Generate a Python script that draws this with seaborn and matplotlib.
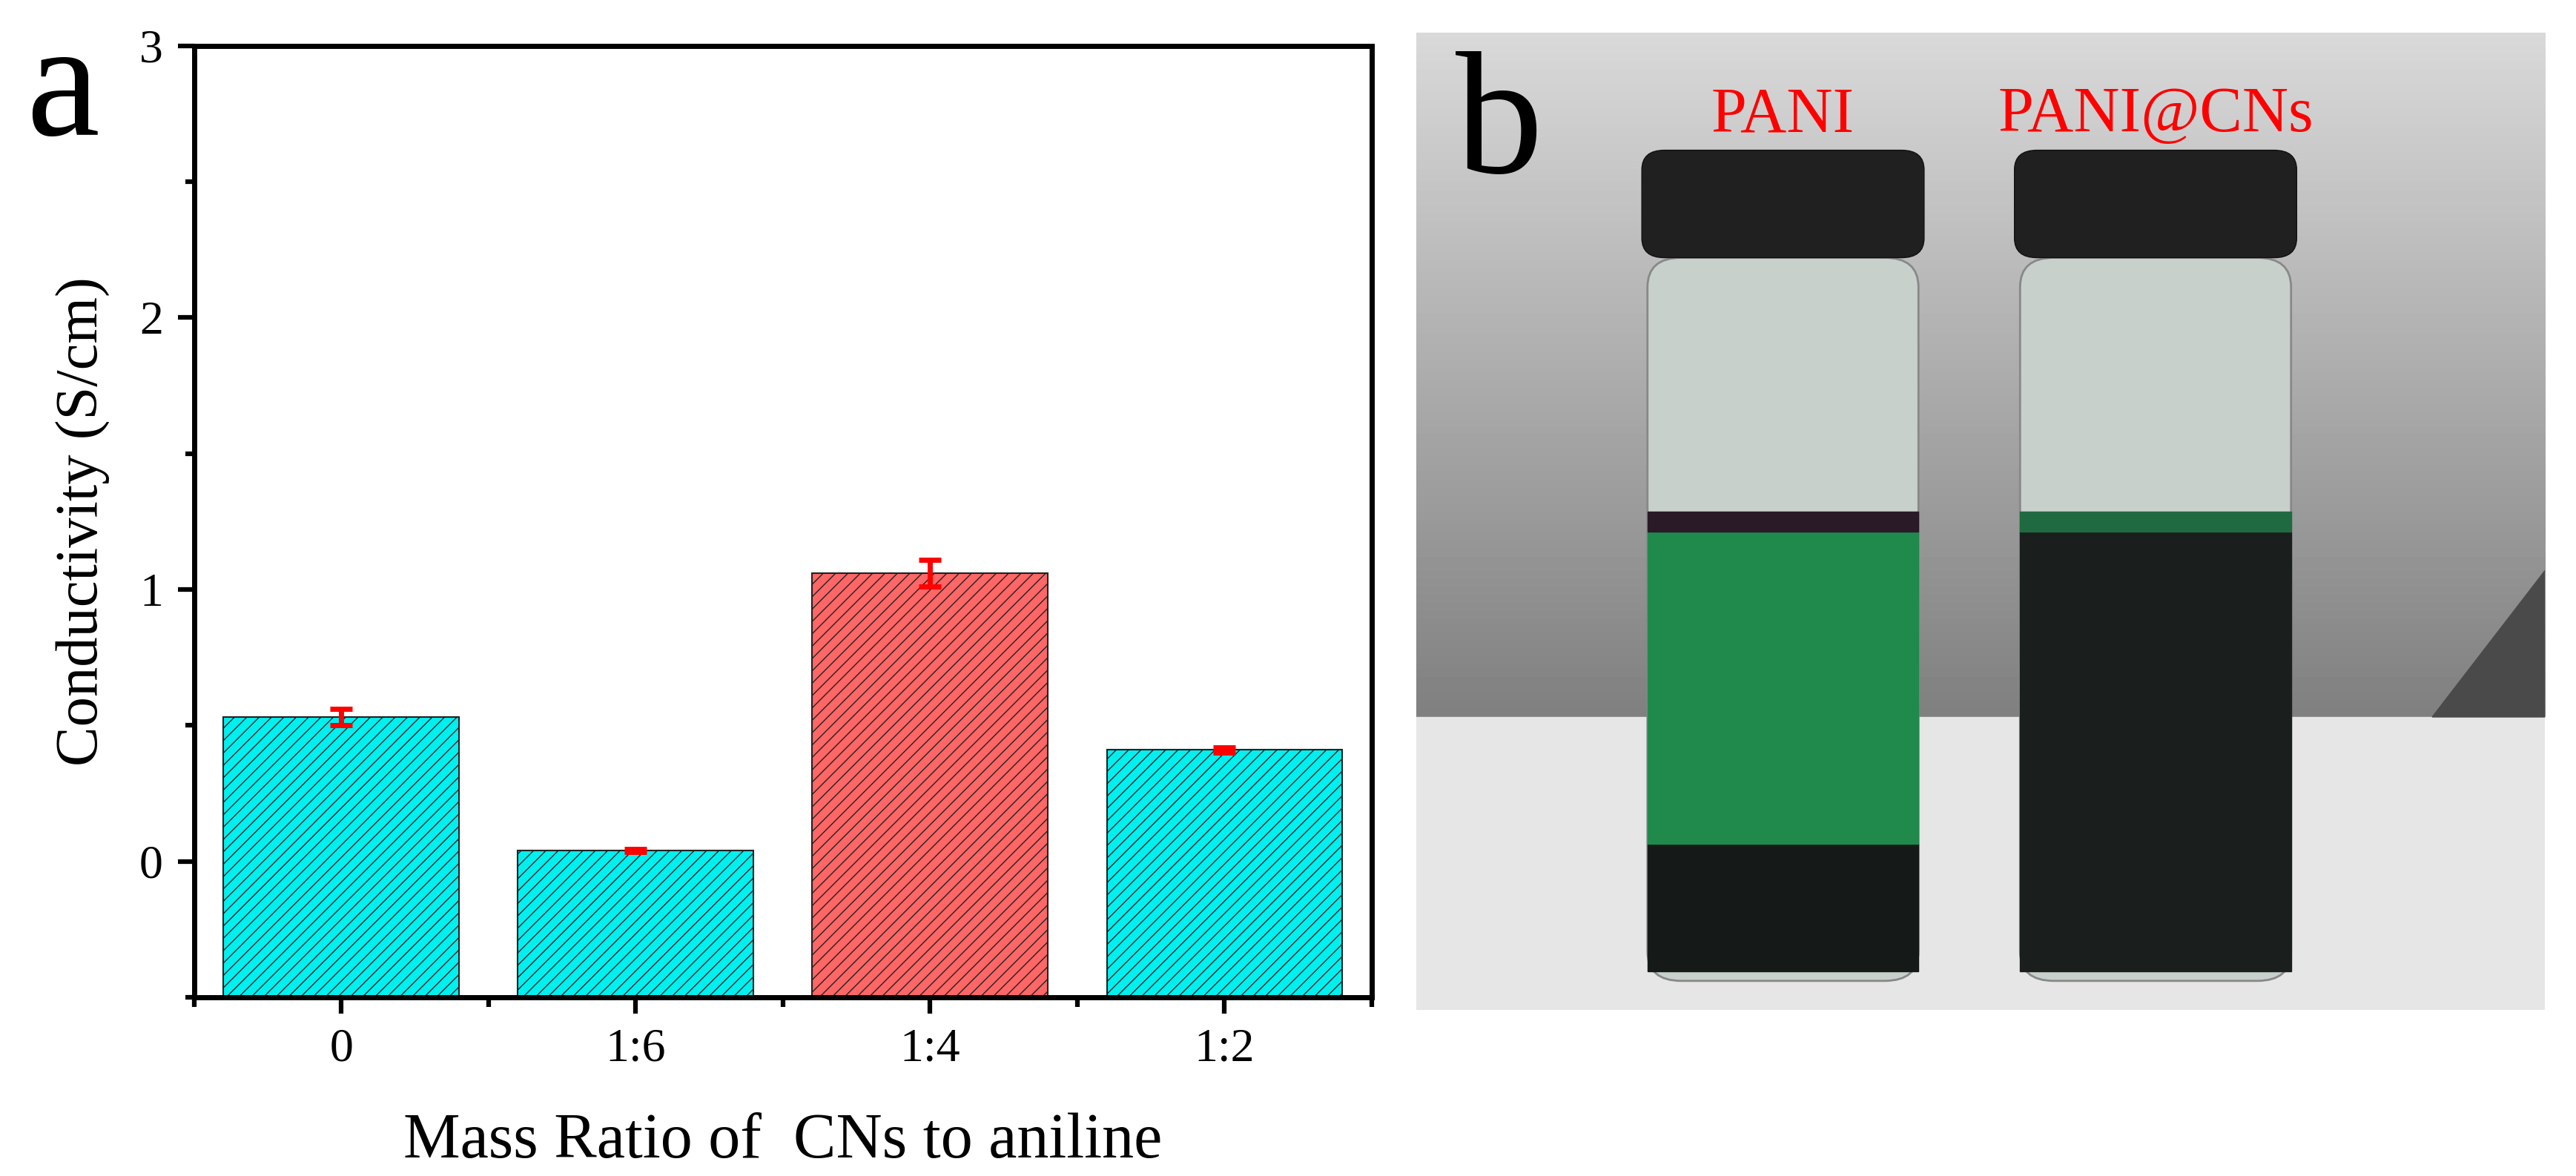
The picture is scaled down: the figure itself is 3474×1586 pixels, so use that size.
import numpy as np
import pandas as pd
import matplotlib
matplotlib.use("Agg")
import matplotlib.pyplot as plt
import seaborn as sns
from matplotlib.patches import Rectangle, FancyBboxPatch, Polygon

categories = ["0", "1:6", "1:4", "1:2"]
conductivity = [0.53, 0.04, 1.06, 0.41]
errors = [0.03, 0.006, 0.05, 0.01]
bar_colors = ["#00F0F0", "#00F0F0", "#FF6666", "#00F0F0"]

plt.rcParams["font.family"] = "Liberation Serif"
plt.rcParams["hatch.linewidth"] = 1.0
fig = plt.figure(figsize=(34.74, 15.86), dpi=100)
ax = fig.add_axes([0.0753, 0.152, 0.4572, 0.809])

df = pd.DataFrame({"ratio": categories, "val": conductivity})
sns.barplot(data=df, x="ratio", y="val", hue="ratio", palette=bar_colors,
            legend=False, width=0.8, errorbar=None, ax=ax,
            edgecolor="#222222", linewidth=1.5, saturation=1)
base = -0.5
for p, v in zip(ax.patches, conductivity):
    p.set_y(base)
    p.set_height(v - base)
    p.set_hatch("//")
ax.errorbar(range(4), conductivity, yerr=errors, fmt="none", ecolor="red",
            elinewidth=5, capsize=11, capthick=5, zorder=5)

ax.set_ylim(-0.5, 3)
ax.set_xlim(-0.48, 3.475)
ax.set_yticks([0, 1, 2, 3])
ax.set_yticks(np.arange(-0.5, 3.01, 0.5), minor=True)
ax.set_xticks([0.5, 1.5, 2.5, -0.5, 3.5], minor=True)
for s in ax.spines.values():
    s.set_linewidth(5)
ax.tick_params(axis="both", which="major", labelsize=46, width=4.5, length=16, direction="out", pad=14)
ax.tick_params(axis="both", which="minor", width=4.5, length=9, direction="out")
ax.set_xlabel("Mass Ratio of  CNs to aniline", fontsize=62, labelpad=40)
ax.set_ylabel("Conductivity (S/cm)", fontsize=58, labelpad=28)
fig.text(0.01, 0.885, "a", fontsize=160, va="baseline")

# panel b: schematic of photo
bx = fig.add_axes([0.5497, 0.141, 0.4383, 0.831])
bx.set_xlim(0, 1); bx.set_ylim(0, 1); bx.axis("off")
grad = np.linspace(0.50, 0.85, 256).reshape(-1, 1)
bx.imshow(grad, extent=[0, 1, 0.3, 1], cmap="gray", vmin=0, vmax=1, aspect="auto", origin="lower")
bx.add_patch(Rectangle((0, 0), 1, 0.3, color="#e6e6e6"))
bx.add_patch(Polygon([(0.9, 0.3), (1, 0.45), (1, 0.3)], color="#4a4a4a"))
for cx, liquid in [(0.325, "green"), (0.655, "dark")]:
    w = 0.24
    bx.add_patch(FancyBboxPatch((cx - w/2, 0.03), w, 0.74, boxstyle="round,pad=0,rounding_size=0.03",
                                fc="#c8d0cc", ec="#888888", lw=2))
    if liquid == "green":
        bx.add_patch(Rectangle((cx - w/2, 0.04), w, 0.13, color="#151a18"))
        bx.add_patch(Rectangle((cx - w/2, 0.17), w, 0.32, color="#1f8a4c"))
        bx.add_patch(Rectangle((cx - w/2, 0.49), w, 0.02, color="#2a1a28"))
    else:
        bx.add_patch(Rectangle((cx - w/2, 0.04), w, 0.45, color="#1a1e1c"))
        bx.add_patch(Rectangle((cx - w/2, 0.49), w, 0.02, color="#1f6a40"))
    bx.add_patch(FancyBboxPatch((cx - w/2 - 0.005, 0.77), w + 0.01, 0.11,
                                boxstyle="round,pad=0,rounding_size=0.02", fc="#202020", ec="#101010"))
bx.text(0.325, 0.915, "PANI", color="red", fontsize=62, ha="center", va="center")
bx.text(0.655, 0.915, "PANI@CNs", color="red", fontsize=62, ha="center", va="center")
bx.text(0.035, 0.9, "b", fontsize=170, va="center")

fig.savefig("out.png", dpi=100)
